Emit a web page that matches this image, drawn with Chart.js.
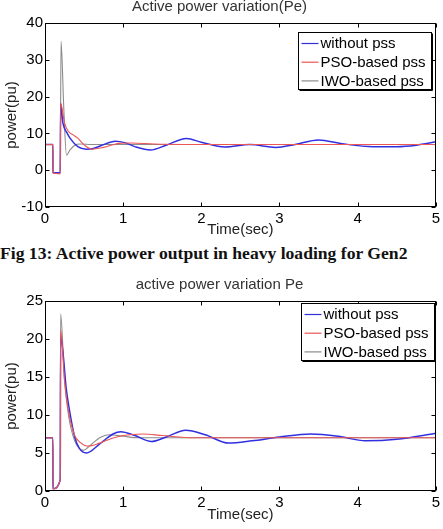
<!DOCTYPE html>
<html>
<head>
<meta charset="utf-8">
<title>Active power variation</title>
<script src="https://cdn.jsdelivr.net/npm/chart.js@4.4.1/dist/chart.umd.min.js"></script>
<style>
    body { margin: 0; background: #fff; width: 443px; height: 529px; position: relative; overflow: hidden; }
    canvas { position: absolute; left: 0; }
    #pe1 { top: 0; }
    #pe2 { top: 278px; }
    .caption {
        position: absolute; left: 0; top: 243px; line-height: 1;
        font: bold 17.6px "Liberation Serif", "Times New Roman", serif;
        color: #111; white-space: nowrap;
    }
</style>
</head>
<body>
<canvas id="pe1" width="443" height="240"></canvas>
<div class="caption">Fig 13: Active power output in heavy loading for Gen2</div>
<canvas id="pe2" width="443" height="246"></canvas>
<script>
// legend labels / colours
const seriesLabels = ['without pss', 'PSO-based pss', 'IWO-based pss'];
const seriesColors = ['#3030e0', '#ee5555', '#8c8c8c'];

// ---- upper chart: Active power variation(Pe) ----
const timeWo1  = [0, 0.1, 0.101, 0.195, 0.2, 0.23, 0.28, 0.32, 0.42, 0.53, 0.62, 0.72, 0.9, 1.02, 1.15, 1.35, 1.55, 1.81, 2.0, 2.3, 2.62, 2.95, 3.2, 3.5, 3.8, 4.2, 4.5, 4.75, 5];
const powerWo1 = [7, 7, -0.7, -0.7, 18, 12.7, 10.2, 8.7, 6.4, 5.7, 5.9, 6.7, 7.9, 7.5, 6.4, 5.5, 6.8, 8.6, 7.6, 6.3, 6.95, 6.2, 7.0, 8.2, 7.2, 6.4, 6.4, 6.8, 7.7];
const timePso1  = [0, 0.1, 0.101, 0.195, 0.2, 0.25, 0.3, 0.36, 0.42, 0.5, 0.6, 0.75, 0.95, 1.1, 1.4, 1.8, 5];
const powerPso1 = [7, 7, -0.7, -1.0, 18.3, 12.8, 10.5, 9.6, 8.7, 6.9, 5.7, 6.2, 7.3, 7.4, 7.1, 7.0, 7.0];
const timeIwo1  = [0, 0.1, 0.101, 0.195, 0.205, 0.24, 0.275, 0.32, 0.38, 0.45, 0.6, 1.0, 5];
const powerIwo1 = [7, 7, -0.7, -0.7, 35, 17, 4.1, 5.5, 6.8, 7.1, 7.0, 7.0, 7.0];

// ---- lower chart: active power variation Pe ----
const timeWo2  = [0, 0.1, 0.101, 0.195, 0.2, 0.275, 0.32, 0.38, 0.44, 0.53, 0.7, 0.87, 0.97, 1.15, 1.36, 1.55, 1.8, 2.05, 2.35, 2.65, 3.0, 3.4, 3.75, 4.1, 4.5, 5];
const powerWo2 = [7, 7, 0.3, 1.5, 20.3, 13.2, 10.2, 7.1, 5.6, 5.0, 6.2, 7.5, 7.8, 7.3, 6.5, 7.1, 8.0, 7.4, 6.3, 6.6, 7.1, 7.5, 7.2, 6.6, 6.8, 7.6];
const timePso2  = [0, 0.1, 0.101, 0.195, 0.2, 0.25, 0.3, 0.38, 0.45, 0.55, 0.7, 0.85, 1.0, 1.25, 1.5, 1.9, 5];
const powerPso2 = [7, 7, 0.3, 1.5, 21.2, 14.5, 10.5, 7.3, 6.4, 5.9, 6.3, 6.9, 7.3, 7.5, 7.3, 7.0, 7.0];
const timeIwo2  = [0, 0.1, 0.101, 0.195, 0.2, 0.25, 0.3, 0.38, 0.49, 0.6, 0.7, 0.82, 1.0, 1.2, 5];
const powerIwo2 = [7, 7, 0.3, 1.5, 23.3, 14.5, 10.0, 6.6, 5.35, 6.2, 7.0, 7.4, 7.2, 7.0, 7.0];

const xTickStep = 1;

function toPoints(t, p) {
    return t.map((v, i) => ({ x: v, y: p[i] }));
}

// frame with inward ticks + boxed legend (matlab look)
const framePlugin = {
    id: 'frame',
    afterDatasetsDraw(chart, args, opts) {
        const ctx = chart.ctx;
        const a = chart.chartArea;
        const xs = chart.scales.x, ys = chart.scales.y;
        ctx.save();
        ctx.strokeStyle = '#000';
        ctx.lineWidth = 1;
        const L = Math.round(a.left) + 0.5, R = Math.round(a.right) - 0.5;
        const T = Math.round(a.top) + 0.5, B = Math.round(a.bottom) - 0.5;
        ctx.strokeRect(L, T, R - L, B - T);
        ctx.beginPath();
        xs.ticks.forEach(tk => {
            const px = Math.round(xs.getPixelForValue(tk.value)) + 0.5;
            ctx.moveTo(px, T); ctx.lineTo(px, T + 4);
            ctx.moveTo(px, B); ctx.lineTo(px, B - 4);
        });
        ys.ticks.forEach(tk => {
            const py = Math.round(ys.getPixelForValue(tk.value)) + 0.5;
            ctx.moveTo(L, py); ctx.lineTo(L + 4, py);
            ctx.moveTo(R, py); ctx.lineTo(R - 4, py);
        });
        ctx.stroke();

        // legend box
        const bw = 133, bh = 57;
        const bx = Math.round(a.right - opts.right - bw) + 0.5;
        const by = Math.round(a.top + opts.top) + 0.5;
        ctx.fillStyle = '#fff';
        ctx.fillRect(bx, by, bw, bh);
        ctx.strokeRect(bx, by, bw, bh);
        ctx.beginPath();
        ctx.moveTo(bx + bw + 1, by + 1); ctx.lineTo(bx + bw + 1, by + bh + 1); ctx.lineTo(bx + 1, by + bh + 1);
        ctx.stroke();
        ctx.font = '15px "Liberation Sans", Arial, sans-serif';
        ctx.textBaseline = 'middle';
        ctx.textAlign = 'left';
        chart.data.datasets.forEach((ds, i) => {
            const ry = by + 11 + i * 18.7;
            ctx.strokeStyle = ds.borderColor;
            ctx.lineWidth = 1.2;
            ctx.beginPath();
            ctx.moveTo(bx + 3, ry); ctx.lineTo(bx + 20, ry);
            ctx.stroke();
            ctx.fillStyle = '#000';
            ctx.fillText(ds.label, bx + 22, ry + 0.5);
        });
        ctx.restore();
    }
};

function makeChart(id, cfg) {
    const ctx = document.getElementById(id).getContext('2d');
    return new Chart(ctx, {
        type: 'line',
        data: {
            datasets: [
                { label: seriesLabels[0], data: toPoints(cfg.wo[0], cfg.wo[1]), borderColor: seriesColors[0], borderWidth: 1.5, order: 1 },
                { label: seriesLabels[1], data: toPoints(cfg.pso[0], cfg.pso[1]), borderColor: seriesColors[1], borderWidth: 1.1, order: 0 },
                { label: seriesLabels[2], data: toPoints(cfg.iwo[0], cfg.iwo[1]), borderColor: seriesColors[2], borderWidth: 1.1, order: 2 }
            ]
        },
        options: {
            responsive: false,
            animation: false,
            devicePixelRatio: 1,
            layout: { padding: { left: 0, right: 4, top: 0, bottom: 0 } },
            elements: {
                point: { radius: 0 },
                line: { cubicInterpolationMode: 'monotone', fill: false }
            },
            plugins: {
                legend: { display: false },
                tooltip: { enabled: false },
                title: {
                    display: true,
                    text: cfg.title,
                    color: '#333',
                    font: { family: '"Liberation Sans", Arial, sans-serif', size: 15, weight: 'normal', lineHeight: 0.85 },
                    padding: { top: 0, bottom: 10.25 }
                },
                frame: cfg.legendPos
            },
            scales: {
                x: {
                    type: 'linear',
                    min: 0, max: 5,
                    grid: { display: false, drawTicks: false },
                    border: { display: false },
                    ticks: { stepSize: xTickStep, padding: 3, color: '#000', maxRotation: 0,
                        font: { family: '"Liberation Sans", Arial, sans-serif', size: 15 } },
                    title: { display: true, text: 'Time(sec)', color: '#222',
                        font: { family: '"Liberation Sans", Arial, sans-serif', size: 15 },
                        padding: { top: 0, bottom: cfg.xTitlePad } },
                    afterFit(scale) { scale.height = 33; }
                },
                y: {
                    min: cfg.yMin, max: cfg.yMax,
                    grid: { display: false, drawTicks: false },
                    border: { display: false },
                    ticks: { stepSize: cfg.yStep, padding: 2, color: '#000',
                        font: { family: '"Liberation Sans", Arial, sans-serif', size: 15 } },
                    title: { display: true, text: 'power(pu)', color: '#222',
                        font: { family: '"Liberation Sans", Arial, sans-serif', size: 15 },
                        padding: { top: 3, bottom: 0 } },
                    afterFit(scale) { scale.width = 45; }
                }
            }
        },
        plugins: [framePlugin]
    });
}

makeChart('pe1', {
    title: 'Active power variation(Pe)',
    wo: [timeWo1, powerWo1], pso: [timePso1, powerPso1], iwo: [timeIwo1, powerIwo1],
    yMin: -10, yMax: 40, yStep: 10,
    xTitlePad: 1.5,
    legendPos: { right: 5, top: 9 }
});

makeChart('pe2', {
    title: 'active power variation Pe',
    wo: [timeWo2, powerWo2], pso: [timePso2, powerPso2], iwo: [timeIwo2, powerIwo2],
    yMin: 0, yMax: 25, yStep: 5,
    xTitlePad: 0,
    legendPos: { right: 2.3, top: 2 }
});
</script>
</body>
</html>
